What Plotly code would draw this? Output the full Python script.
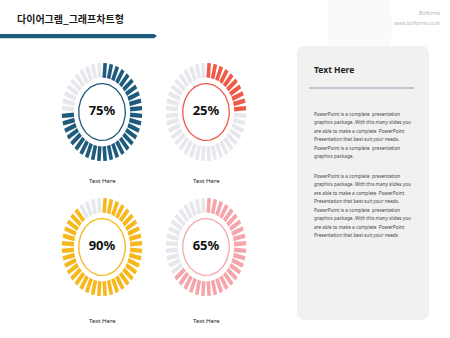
import math
import plotly.graph_objects as go

# ---- data ----
percents = [75, 25, 90, 65]
ring_labels = ["Text Here", "Text Here", "Text Here", "Text Here"]
ring_colors = ["#1f5b7c", "#ef5a47", "#f6b81c", "#f5a6ab"]
title_text = "다이어그램_그래프차트형"
panel_title = "Text Here"
para1 = [
    "PowerPoint is a complete  presentation",
    "graphics package. With this many slides you",
    "are able to make a complete  PowerPoint",
    "Presentation that best suit your needs.",
    "PowerPoint is a complete  presentation",
    "graphics package.",
]
para2 = [
    "PowerPoint is a complete  presentation",
    "graphics package. With this many slides you",
    "are able to make a complete  PowerPoint",
    "Presentation that best suit your needs.",
    "PowerPoint is a complete  presentation",
    "graphics package. With this many slides you",
    "are able to make a complete  PowerPoint",
    "Presentation that best suit your needs",
]

# ---- layout params ----
W, H = 450, 338
N_SEG = 40
GREY = "#e7e8ed"
centers = [(102, 112), (206, 112), (102, 247), (206, 247)]
label_y = [181, 181, 321, 321]
RX, RY = 41, 50
R_IN, R_OUT, BAR_W = 0.70, 1.0, 0.09
R_CIRC = 0.58

fig = go.Figure()

def seg_paths(idx_list):
    xs, ys = [], []
    for k in idx_list:
        th = math.radians((k + 0.5) * 360 / N_SEG)
        dx, dy = math.sin(th), math.cos(th)
        px, py = math.cos(th), -math.sin(th)
        h = BAR_W / 2
        pts = [
            (R_IN * dx - h * px, R_IN * dy - h * py),
            (R_OUT * dx - h * px, R_OUT * dy - h * py),
            (R_OUT * dx + h * px, R_OUT * dy + h * py),
            (R_IN * dx + h * px, R_IN * dy + h * py),
            (R_IN * dx - h * px, R_IN * dy - h * py),
        ]
        for x, y in pts:
            xs.append(x); ys.append(y)
        xs.append(None); ys.append(None)
    return xs, ys

for i, (pct, col, lab, (cx, cy)) in enumerate(zip(percents, ring_colors, ring_labels, centers)):
    n_on = round(pct / 100 * N_SEG)
    ax = "" if i == 0 else str(i + 1)
    xa, ya = "x" + ax, "y" + ax
    for idxs, c in [(range(n_on, N_SEG), GREY), (range(0, n_on), col)]:
        xs, ys = seg_paths(list(idxs))
        fig.add_trace(go.Scatter(x=xs, y=ys, mode="lines", fill="toself",
                                 fillcolor=c, line=dict(width=0, color=c),
                                 hoverinfo="skip", showlegend=False, xaxis=xa, yaxis=ya))
    t = [j * 2 * math.pi / 120 for j in range(121)]
    fig.add_trace(go.Scatter(x=[R_CIRC * math.cos(a) for a in t], y=[R_CIRC * math.sin(a) for a in t],
                             mode="lines", line=dict(color=col, width=1.3),
                             hoverinfo="skip", showlegend=False, xaxis=xa, yaxis=ya))
    fig.add_trace(go.Scatter(x=[0], y=[0], mode="text", text=[f"<b>{pct}%</b>"],
                             textfont=dict(family="Noto Sans", size=13, color="#111111"),
                             hoverinfo="skip", showlegend=False, xaxis=xa, yaxis=ya))
    dom_x = [(cx - RX) / W, (cx + RX) / W]
    dom_y = [(H - cy - RY) / H, (H - cy + RY) / H]
    axkw = dict(visible=False, range=[-1.02, 1.02], fixedrange=True)
    fig.update_layout(**{
        ("xaxis" + ax): dict(domain=dom_x, anchor=ya, **axkw),
        ("yaxis" + ax): dict(domain=dom_y, anchor=xa, **axkw),
    })
    fig.add_annotation(x=cx / W, y=1 - label_y[i] / H, xref="paper", yref="paper",
                       xanchor="center", yanchor="middle",
                       text=lab, showarrow=False,
                       font=dict(family="Noto Sans", size=6, color="#222222"))

shapes = []
# faint header background
shapes.append(dict(type="path", xref="paper", yref="paper",
                   path=f"M {328/W},{1} L {388/W},{1} Q {395/W},{1-22/H} {390/W},{1-45/H} L {328/W},{1-45/H} Z",
                   fillcolor="#fafafa", line=dict(width=0), layer="below"))
# header bar
shapes.append(dict(type="path", xref="paper", yref="paper",
                   path=f"M 0,{1-34/H} L {154/W},{1-34/H} L {157/W},{1-36/H} L {154/W},{1-38.3/H} L 0,{1-38.3/H} Z",
                   fillcolor="#1f5b7c", line=dict(width=0)))
# right panel
x0, x1, y0, y1, r = 297 / W, 429 / W, 1 - 46 / H, 1 - 320 / H, 8
rx, ry = r / W, r / H
shapes.append(dict(type="path", xref="paper", yref="paper",
                   path=(f"M {x0+rx},{y0} L {x1-rx},{y0} Q {x1},{y0} {x1},{y0-ry} "
                         f"L {x1},{y1+ry} Q {x1},{y1} {x1-rx},{y1} L {x0+rx},{y1} "
                         f"Q {x0},{y1} {x0},{y1+ry} L {x0},{y0-ry} Q {x0},{y0} {x0+rx},{y0} Z"),
                   fillcolor="#f1f1f1", line=dict(width=0), layer="below"))
shapes.append(dict(type="line", xref="paper", yref="paper",
                   x0=309 / W, x1=414 / W, y0=1 - 88 / H, y1=1 - 88 / H,
                   line=dict(color="#8c9db2", width=1)))
fig.update_layout(shapes=shapes)

ann = []
ann.append(dict(x=15 / W, y=1 - 18 / H, xref="paper", yref="paper", xanchor="left", yanchor="middle",
                text=f"<b>{title_text}</b>", showarrow=False,
                font=dict(family="Noto Sans CJK KR", size=10, color="#1a1a1a")))
ann.append(dict(x=442 / W, y=1 - 13 / H, xref="paper", yref="paper", xanchor="right", yanchor="middle",
                text="Bizforms", showarrow=False, font=dict(family="Noto Sans", size=5, color="#b5b5b5")))
ann.append(dict(x=442 / W, y=1 - 23 / H, xref="paper", yref="paper", xanchor="right", yanchor="middle",
                text="www.bizforms.co.kr", showarrow=False, font=dict(family="Noto Sans", size=5, color="#b5b5b5")))
ann.append(dict(x=312 / W, y=1 - 70 / H, xref="paper", yref="paper", xanchor="left", yanchor="middle",
                text=f"<b>{panel_title}</b>", showarrow=False, font=dict(family="Noto Sans", size=8.5, color="#222222")))
for j, line in enumerate(para1):
    ann.append(dict(x=312 / W, y=1 - (114 + 8.4 * j) / H, xref="paper", yref="paper",
                    xanchor="left", yanchor="middle", text=line, showarrow=False,
                    font=dict(family="Noto Sans", size=4.7, color="#444444")))
for j, line in enumerate(para2):
    ann.append(dict(x=312 / W, y=1 - (176 + 8.45 * j) / H, xref="paper", yref="paper",
                    xanchor="left", yanchor="middle", text=line, showarrow=False,
                    font=dict(family="Noto Sans", size=4.7, color="#444444")))
for a in ann:
    fig.add_annotation(**a)

fig.update_layout(width=W, height=H, margin=dict(l=0, r=0, t=0, b=0),
                  paper_bgcolor="white", plot_bgcolor="rgba(0,0,0,0)", showlegend=False)
fig.write_html("out.html")
